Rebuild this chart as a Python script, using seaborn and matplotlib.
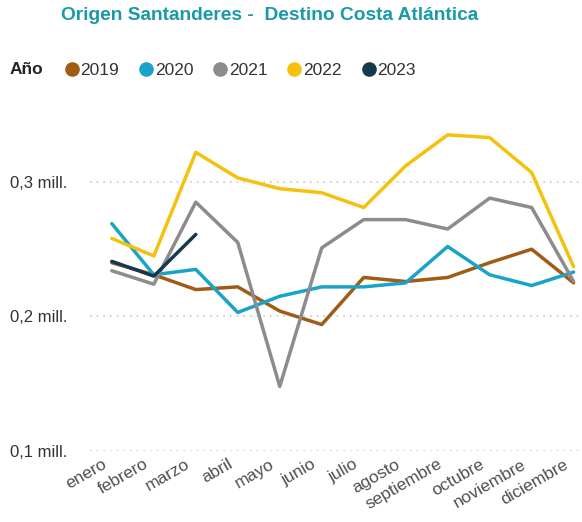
import matplotlib
matplotlib.use("Agg")
import matplotlib.pyplot as plt
import matplotlib.transforms as mtransforms
from matplotlib.lines import Line2D
import numpy as np
import pandas as pd
import seaborn as sns

# ---------------------------------------------------------------------------
# Data (millions of passengers)
# ---------------------------------------------------------------------------
MESES = ["enero", "febrero", "marzo", "abril", "mayo", "junio", "julio",
         "agosto", "septiembre", "octubre", "noviembre", "diciembre"]

V2019 = [0.240, 0.231, 0.220, 0.222, 0.204, 0.194, 0.229, 0.226, 0.229, 0.240, 0.250, 0.225]
V2020 = [0.269, 0.231, 0.235, 0.203, 0.215, 0.222, 0.222, 0.225, 0.252, 0.231, 0.223, 0.233]
V2021 = [0.234, 0.224, 0.285, 0.255, 0.148, 0.251, 0.272, 0.272, 0.265, 0.288, 0.281, 0.226]
V2022 = [0.258, 0.245, 0.322, 0.303, 0.295, 0.292, 0.281, 0.312, 0.335, 0.333, 0.307, 0.237]
V2023 = [0.241, 0.230, 0.261]

YEARS = ["2019", "2020", "2021", "2022", "2023"]
SERIES = [V2019, V2020, V2021, V2022, V2023]

COLORS = {
    "2019": "#a05c14",
    "2020": "#1aa3c8",
    "2021": "#8c8c8c",
    "2022": "#f4c20d",
    "2023": "#14394f",
}

Y_TICKS = [0.1, 0.2, 0.3]
Y_LABELS = ["0,1 mill.", "0,2 mill.", "0,3 mill."]

rows = []
for year, vals in zip(YEARS, SERIES):
    for i, v in enumerate(vals):
        rows.append({"Año": year, "mes": i, "valor": v})
df = pd.DataFrame(rows)

# ---------------------------------------------------------------------------
# Style
# ---------------------------------------------------------------------------
sns.set_theme(style="white")
plt.rcParams["font.family"] = ["Liberation Sans", "DejaVu Sans"]

fig = plt.figure(figsize=(5.82, 5.22), dpi=100)
ax = fig.add_axes([90 / 582, 1 - 451 / 522, 492 / 582, (451 - 112) / 522])

sns.lineplot(data=df, x="mes", y="valor", hue="Año", palette=COLORS,
             linewidth=2.5, sort=False, legend=False, ax=ax)

ax.set_xlim(-0.52, 11.2)
ax.set_ylim(0.1, 0.352)
ax.set_xlabel("")
ax.set_ylabel("")
ax.set_yticks(Y_TICKS)
ax.set_yticklabels(Y_LABELS)
ax.set_xticks(range(len(MESES)))
ax.set_xticklabels(MESES, rotation=30, ha="right", va="top")

ax.grid(axis="y", color="#c8c8c8", linestyle=(0, (1, 3)), linewidth=1.2)
ax.grid(axis="x", visible=False)
for s in ax.spines.values():
    s.set_visible(False)

ax.tick_params(axis="y", length=0, pad=57.5, labelsize=12, labelcolor="#333333")
ax.tick_params(axis="x", length=0, pad=4, labelsize=12.5, labelcolor="#505050")
for lab in ax.get_yticklabels():
    lab.set_horizontalalignment("left")

# nudge month labels a little left of their tick
offset = mtransforms.ScaledTranslation(-0.03, 0, fig.dpi_scale_trans)
for lab in ax.get_xticklabels():
    lab.set_transform(lab.get_transform() + offset)

# Title
fig.text(270 / 582, 1 - 16 / 522, "Origen Santanderes -  Destino Costa Atlántica",
         ha="center", va="center", fontsize=13.8, fontweight="bold", color="#1a9aa6")

# Legend
fig.text(10 / 582, 1 - 70 / 522, "Año", ha="left", va="center",
         fontsize=12.5, fontweight="bold", color="#252525")
handles = [Line2D([], [], marker="o", linestyle="none", markersize=9.5,
                  markerfacecolor=COLORS[y], markeredgecolor=COLORS[y]) for y in YEARS]
fig.legend(handles, YEARS, loc="center left", bbox_to_anchor=(64 / 582, 1 - 70 / 522),
           ncol=5, frameon=False, fontsize=12.5, handlelength=0.9, handletextpad=0.05,
           columnspacing=1.1, borderpad=0, borderaxespad=0, labelcolor="#333333")

fig.savefig("out.png", dpi=100)
